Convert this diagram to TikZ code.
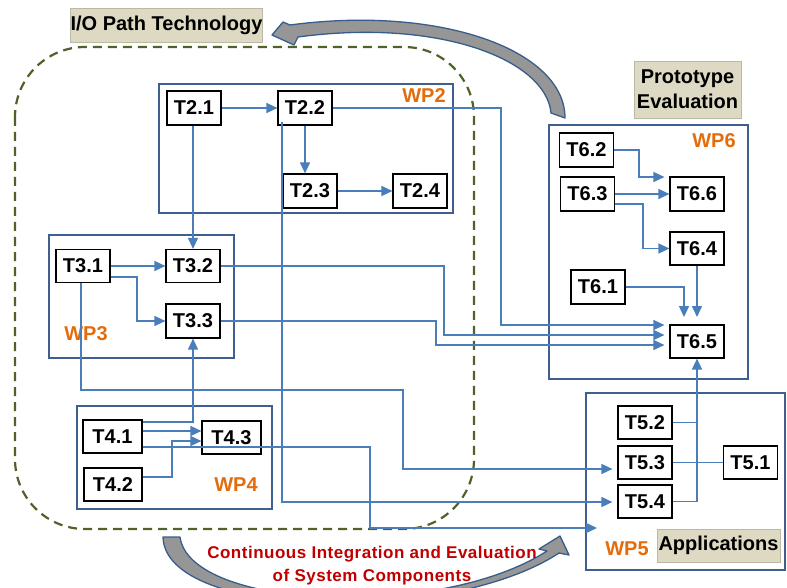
\documentclass[tikz,border=0pt]{standalone}
\usepackage{fontspec}
\setmainfont{Liberation Sans}
\usetikzlibrary{arrows.meta}
\definecolor{wpblue}{RGB}{62,96,145}
\definecolor{linkblue}{RGB}{74,126,187}
\definecolor{wporange}{RGB}{228,108,10}
\definecolor{tagbeige}{RGB}{221,217,195}
\definecolor{dashgreen}{RGB}{79,98,40}
\definecolor{darkred}{RGB}{192,0,0}
\definecolor{arrowgray}{RGB}{150,150,150}
\definecolor{arrowedge}{RGB}{56,93,138}
\tikzset{
  task/.style={draw=black, fill=white, line width=1.2pt, minimum width=54pt,
    minimum height=34pt, inner sep=0pt, font=\bfseries\fontsize{20}{24}\selectfont},
  wpbox/.style={draw=wpblue, line width=2pt},
  wplabel/.style={text=wporange, font=\bfseries\fontsize{20}{24}\selectfont, inner sep=0pt},
  tag/.style={fill=tagbeige, draw=tagbeige!85!black, line width=0.5pt,
    font=\bfseries\fontsize{20}{24}\selectfont, inner sep=0pt},
  link/.style={draw=linkblue, line width=1.5pt, -{Triangle[length=11pt,width=10pt]}},
  plainlink/.style={draw=linkblue, line width=1.5pt},
  bigarrow/.style={fill=arrowgray, draw=arrowedge, line width=1.3pt, line join=round},
}
\begin{document}
\begin{tikzpicture}[x=1pt,y=-1pt]
\useasboundingbox (0,0) rectangle (787,588);
\clip (0,0) rectangle (787,588);

% I/O path technology region
\draw[dashgreen, line width=2.2pt, dash pattern=on 9pt off 6pt, rounded corners=70pt]
  (15,47) rectangle (474,529);

% work package frames
\draw[wpbox] (159,84) rectangle (453,213);
\draw[wpbox] (49,235) rectangle (234,358);
\draw[wpbox] (77,406) rectangle (272,509);
\draw[wpbox] (586,393) rectangle (785,570);
\draw[wpbox] (549,125) rectangle (748,379);

% work package labels and headings
\node[wplabel] (wp2) at (424,96) {WP2};
\node[wplabel] (wp3) at (86,334) {WP3};
\node[wplabel] (wp4) at (236,485) {WP4};
\node[wplabel] (wp5) at (627,549) {WP5};
\node[wplabel] (wp6) at (714,141) {WP6};
\node[tag, minimum width=191pt, minimum height=34pt] (iopath) at (166.5,25) {I/O Path Technology};
\node[tag, minimum width=107pt, minimum height=57pt, align=center,
  font=\bfseries\fontsize{20}{25}\selectfont] (proto) at (687.5,89.5) {Prototype\\Evaluation};
\node[tag, minimum width=123pt, minimum height=33pt] (apps) at (718.5,545.5) {Applications};

% tasks
\node[task] (T21) at (194,108) {T2.1};
\node[task] (T22) at (305,108) {T2.2};
\node[task] (T23) at (310,191) {T2.3};
\node[task] (T24) at (420,191) {T2.4};
\node[task, minimum height=33pt] (T31) at (83,266) {T3.1};
\node[task, minimum height=33pt] (T32) at (193,266) {T3.2};
\node[task] (T33) at (193,321) {T3.3};
\node[task, minimum width=59pt, minimum height=33pt] (T41) at (112.5,436.5) {T4.1};
\node[task, minimum width=58pt, minimum height=33pt] (T42) at (113,484.5) {T4.2};
\node[task, minimum width=59pt, minimum height=33pt] (T43) at (231.5,437.5) {T4.3};
\node[task, minimum height=33pt] (T52) at (645,422.5) {T5.2};
\node[task, minimum height=33pt] (T53) at (645,462.5) {T5.3};
\node[task, minimum height=33pt] (T54) at (645,501.5) {T5.4};
\node[task, minimum height=33pt] (T51) at (750.5,462.5) {T5.1};
\node[task] (T62) at (586.5,150) {T6.2};
\node[task] (T63) at (587.5,194) {T6.3};
\node[task] (T66) at (697,194) {T6.6};
\node[task, minimum height=33pt] (T64) at (697,248.5) {T6.4};
\node[task] (T61) at (598,287) {T6.1};
\node[task, minimum height=33pt] (T65) at (697,341.5) {T6.5};
\coordinate (wp5in) at (597,528);

% WP2 dependencies
\draw[link] (T21.east) -- (T22.west);
\draw[link] (T22.south) -- (T22.south |- T23.north);
\draw[link] (T23.east) -- (T24.west);
\draw[link] (T32.north |- T21.south) -- (T32.north);
\draw[link] (T22.east) -- (501,108) -- (501,325) -- ([xshift=-5pt]T65.west |- 0,325);
\draw[link] ([shift={(-23,14)}]T22.center) -- (282,502) -- ([xshift=-5pt]T54.west |- 0,502);

% WP3 dependencies
\draw[link] (T31.east) -- (T32.west);
\draw[link] (T31.east |- 0,277) -- (137,277) -- (137,321) -- (T33.west);
\draw[link] (T32.east) -- (444,266) -- (444,335) -- ([xshift=-5pt]T65.west |- 0,335);
\draw[link] (T33.east) -- (436,321) -- (436,345) -- ([xshift=-5pt]T65.west |- 0,345);
\draw[link] ([xshift=-2pt]T31.south) -- (81,390) -- (403,390) -- (403,469)
  -- ([xshift=-5pt]T53.west |- 0,469);

% WP4 dependencies
\draw[link] (T41.east |- 0,422) -- (193,422) -- (T33.south);
\draw[link] (T41.east |- 0,431) -- (T43.west |- 0,431);
\draw[link] (T42.east |- 0,477) -- (172,477) -- (172,441) -- (T43.west |- 0,441);
\draw[link] (T41.east |- 0,447) -- (370,447) -- (370,528) -- (wp5in);

% WP5 dependencies
\draw[plainlink] (T53.east) -- (T51.west);
\draw[plainlink] (T52.east) -- (T52.east -| T65.south);
\draw[link] (T54.east) -| (T65.south);

% WP6 dependencies
\draw[link] (T62.east) -- (639,150) -- (639,177) -- ([xshift=-5pt]T66.west |- 0,177);
\draw[link] (T63.east) -- (T66.west);
\draw[link] (T63.east |- 0,204) -- (643,204) -- (643,248.5) -- (T64.west);
\draw[link] (T61.east) -- (684,287) -- (684,317);
\draw[link] (T64.south) -- (697,317);

% curved block arrow from prototype evaluation back to I/O path technology
\path[bigarrow] (565,118) .. controls (565,50) and (440,5) .. (290,25)
  -- (283,22) -- (272,35) -- (294,45) -- (298,37)
  .. controls (440,18) and (546,60) .. (551,113) -- cycle;

% curved block arrow for continuous integration
\path[bigarrow] (163,537) -- (180,537)
  .. controls (190,610) and (440,620) .. (547,551)
  -- (539,549) -- (560,536) -- (569,555) -- (559,553)
  .. controls (450,625) and (165,620) .. (163,537) -- cycle;

\node[text=darkred, font=\bfseries\fontsize{17}{23}\selectfont\addfontfeature{LetterSpace=3}, align=center, inner sep=0pt]
  (ci) at (372,565.5) {Continuous Integration and Evaluation\\of System Components};
\end{tikzpicture}
\end{document}
